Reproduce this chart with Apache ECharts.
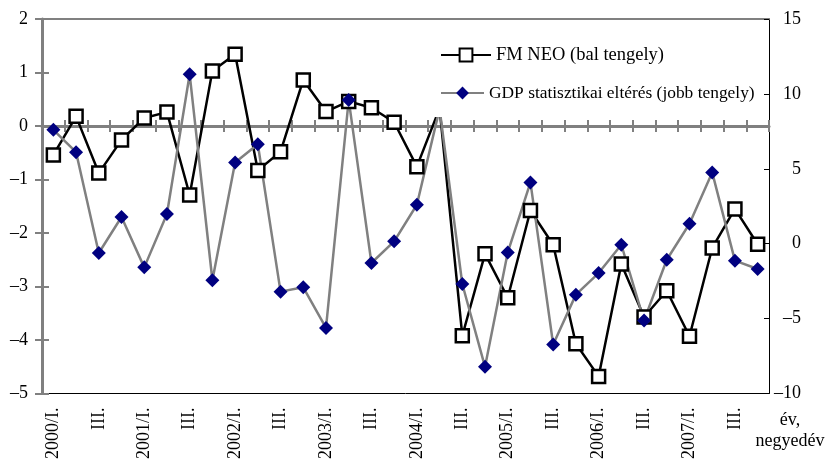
<!DOCTYPE html>
<html>
<head>
<meta charset="utf-8">
<script src="https://cdn.jsdelivr.net/npm/echarts@6/dist/echarts.min.js"></script>
<style>
html,body{margin:0;padding:0;background:#fff;}
#chart{width:827px;height:462px;}
</style>
</head>
<body>
<div id="chart"></div>
<script>
var categories = [
  "2000/I.","II.","III.","IV.",
  "2001/I.","II.","III.","IV.",
  "2002/I.","II.","III.","IV.",
  "2003/I.","II.","III.","IV.",
  "2004/I.","II.","III.","IV.",
  "2005/I.","II.","III.","IV.",
  "2006/I.","II.","III.","IV.",
  "2007/I.","II.","III.","IV."
];
var fmNeo = [
  -0.54, 0.18, -0.88, -0.26,
  0.15, 0.26, -1.29, 1.03,
  1.34, -0.83, -0.48, 0.86,
  0.27, 0.46, 0.34, 0.07,
  -0.76, 0.33, -3.92, -2.39,
  -3.21, -1.58, -2.22, -4.07,
  -4.68, -2.58, -3.57, -3.08,
  -3.93, -2.28, -1.55, -2.21
];
var gdpElteres = [
  7.6, 6.11, -0.62, 1.78,
  -1.58, 1.98, 11.31, -2.44,
  5.42, 6.64, -3.2, -2.91,
  -5.62, 9.6, -1.29, 0.16,
  2.6, 9.0, -2.69, -8.22,
  -0.58, 4.09, -6.73, -3.4,
  -1.96, -0.07, -5.13, -1.07,
  1.33, 4.76, -1.13, -1.69
];
var seriesNames = ["FM NEO (bal tengely)", "GDP statisztikai eltérés (jobb tengely)"];
var leftAxis = {min: -5, max: 2, interval: 1};
var rightAxis = {min: -10, max: 15, interval: 5};
var axisTitle = "év,\nnegyedév";

var FONT = '"Liberation Serif", "Times New Roman", serif';
var GRAY = '#808080';
function dash(v){ return String(v).replace('-', '\u2013'); }

var chart = echarts.init(document.getElementById('chart'), null, {renderer: 'canvas'});
chart.setOption({
  animation: false,
  backgroundColor: '#fff',
  grid: {left: 42, right: 58, top: 19, bottom: 68, containLabel: false},
  legend: [
    {orient: 'vertical', left: 425, top: 35, padding: [10, 5, 10, 15],
     backgroundColor: '#fff',
     itemWidth: 50, itemHeight: 16, itemGap: 0,
     textStyle: {fontFamily: FONT, fontSize: 18.5, color: '#000', lineHeight: 20},
     data: [seriesNames[0]]},
    {orient: 'vertical', left: 425, top: 75, padding: [8, 5, 14, 15],
     backgroundColor: '#fff',
     itemWidth: 43, itemHeight: 16, itemGap: 0,
     textStyle: {fontFamily: FONT, fontSize: 17.4, color: '#000', lineHeight: 20},
     data: [seriesNames[1]]}
  ],
  xAxis: [
    {type: 'category', data: categories, position: 'bottom', boundaryGap: true,
     axisLine: {onZero: true, onZeroAxisIndex: 0, lineStyle: {color: GRAY, width: 3}},
     axisTick: {show: true, interval: 0, inside: false, length: 6, lineStyle: {color: GRAY, width: 2}},
     axisLabel: {show: false}, splitLine: {show: false}},
    {type: 'category', data: categories, position: 'bottom', boundaryGap: true,
     axisLine: {show: false, onZero: true, onZeroAxisIndex: 0},
     axisTick: {show: true, interval: 0, inside: true, length: 6, lineStyle: {color: GRAY, width: 2}},
     axisLabel: {show: false}, splitLine: {show: false}},
    {type: 'category', data: categories, position: 'bottom', boundaryGap: true,
     axisLine: {show: true, onZero: false, lineStyle: {color: '#000', width: 1}},
     axisTick: {show: false},
     axisLabel: {show: true, interval: 1, rotate: 90, margin: 14, fontFamily: FONT, fontSize: 18, color: '#000'},
     splitLine: {show: false}},
    {type: 'category', data: categories, position: 'top', boundaryGap: true,
     axisLine: {show: true, onZero: false, lineStyle: {color: GRAY, width: 2}},
     axisTick: {show: false}, axisLabel: {show: false}, splitLine: {show: false}}
  ],
  yAxis: [
    {type: 'value', position: 'left', min: leftAxis.min, max: leftAxis.max, interval: leftAxis.interval,
     axisLine: {show: true, onZero: false, lineStyle: {color: GRAY, width: 3}},
     axisTick: {show: true, inside: false, length: 7, lineStyle: {color: GRAY, width: 2}},
     axisLabel: {margin: 14, fontFamily: FONT, fontSize: 18, color: '#000', formatter: dash},
     splitLine: {show: false}},
    {type: 'value', position: 'right', min: rightAxis.min, max: rightAxis.max, interval: rightAxis.interval,
     axisLine: {show: true, onZero: false, lineStyle: {color: '#000', width: 1}},
     axisTick: {show: true, inside: true, length: 5, lineStyle: {color: '#000', width: 1}},
     axisLabel: {margin: 32, align: 'right', fontFamily: FONT, fontSize: 18, color: '#000', formatter: dash},
     splitLine: {show: false}},
    {type: 'value', position: 'left', min: leftAxis.min, max: leftAxis.max, interval: leftAxis.interval,
     axisLine: {show: false, onZero: false},
     axisTick: {show: true, inside: true, length: 7, lineStyle: {color: GRAY, width: 2}},
     axisLabel: {show: false}, splitLine: {show: false}}
  ],
  series: [
    {name: seriesNames[0], type: 'line', xAxisIndex: 0, yAxisIndex: 0, data: fmNeo,
     symbol: 'rect', symbolSize: 13, showAllSymbol: true,
     lineStyle: {color: '#000', width: 2.5},
     itemStyle: {color: '#fff', borderColor: '#000', borderWidth: 2.5}},
    {name: seriesNames[1], type: 'line', xAxisIndex: 0, yAxisIndex: 1, data: gdpElteres,
     symbol: 'diamond', symbolSize: [14, 14], showAllSymbol: true,
     lineStyle: {color: GRAY, width: 2.5},
     itemStyle: {color: '#000080', borderWidth: 0}}
  ],
  graphic: [
    {type: 'text', left: 753, top: 410, z: 10,
     style: {text: axisTitle, font: '18px ' + FONT, fill: '#000', textAlign: 'center', lineHeight: 21, width: 74, align: 'center'}}
  ]
});
</script>
</body>
</html>
